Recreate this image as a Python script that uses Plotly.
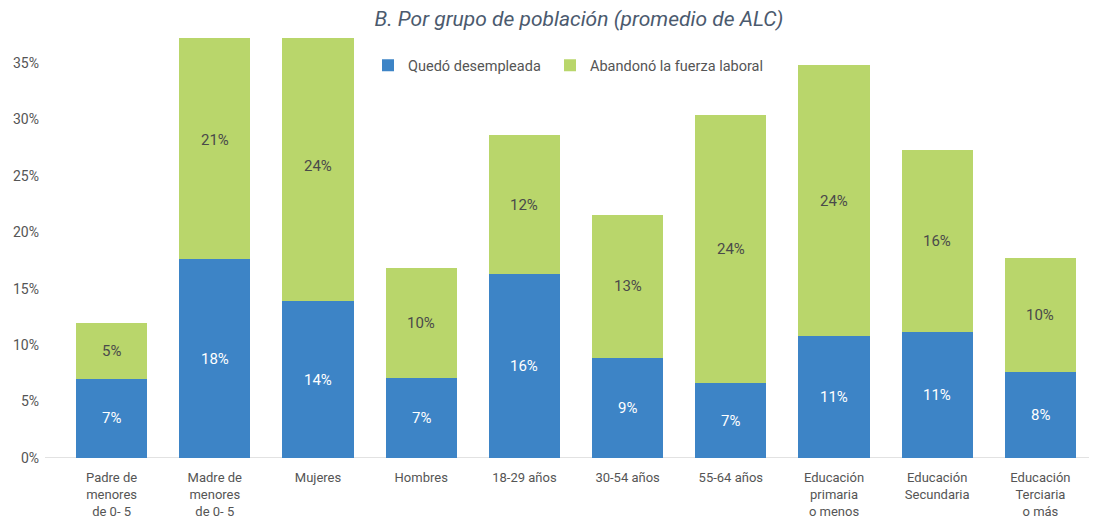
import plotly.graph_objects as go

categories = ["Padre de<br>menores<br>de 0- 5", "Madre de<br>menores<br>de 0- 5", "Mujeres", "Hombres",
              "18-29 años", "30-54 años", "55-64 años", "Educación<br>primaria<br>o menos",
              "Educación<br>Secundaria", "Educación<br>Terciaria<br>o más"]
desempleada = [7.0, 17.6, 13.9, 7.1, 16.3, 8.9, 6.6, 10.8, 11.2, 7.6]
abandono = [5.0, 21.2, 23.9, 9.7, 12.3, 12.6, 23.8, 24.0, 16.1, 10.1]
y_ticks = [0, 5, 10, 15, 20, 25, 30, 35]

blue = "#3d84c6"
green = "#b9d66b"
font = "Roboto"

fig = go.Figure()
fig.add_trace(go.Bar(x=categories, y=desempleada, name="Quedó desempleada", legend="legend",
                     marker=dict(color=blue, line=dict(width=0)), textposition="none"))
fig.add_trace(go.Bar(x=categories, y=abandono, name="Abandonó la fuerza laboral", legend="legend2",
                     marker=dict(color=green, line=dict(width=0)), textposition="none"))

for c, b, g in zip(categories, desempleada, abandono):
    fig.add_annotation(x=c, y=b / 2, text=f"{round(b):.0f}%", showarrow=False,
                       font=dict(color="white", size=15, family=font))
    fig.add_annotation(x=c, y=b + g / 2, text=f"{round(g):.0f}%", showarrow=False,
                       font=dict(color="#4a4a4a", size=15, family=font))

# baseline extending slightly left of the plot area
fig.add_shape(type="line", xref="paper", yref="y", x0=-15 / 1032, x1=1, y0=0, y1=0,
              line=dict(color="#d9d9d9", width=1.5), layer="below")

legend_common = dict(orientation="h", xanchor="left", y=0.935, yanchor="middle",
                     font=dict(size=14.5, color="#555555"), bgcolor="rgba(0,0,0,0)",
                     itemwidth=30, itemsizing="constant")

fig.update_layout(
    width=1097, height=516,
    barmode="stack", bargap=0.31,
    paper_bgcolor="white", plot_bgcolor="white",
    margin=dict(l=52, r=13, t=30, b=66, autoexpand=False),
    font=dict(family=font, color="#555555", size=13),
    title=dict(text="<i>B. Por grupo de población (promedio de ALC)</i>", x=571 / 1097, xanchor="center",
               y=1 - 3 / 516, yanchor="top", font=dict(size=21, color="#4b5a6e", family=font)),
    legend=dict(x=(368 - 60) / 1032, **legend_common),
    legend2=dict(x=(550 - 60) / 1032, **legend_common),
    showlegend=True,
)
fig.update_xaxes(showline=False, showgrid=False, ticks="", automargin=False,
                 tickfont=dict(size=13, color="#555555"), ticklabelstandoff=10)
fig.update_yaxes(range=[0, 37.2], tickvals=y_ticks, ticktext=[f"{v}%" for v in y_ticks],
                 showgrid=False, zeroline=False, showline=False, automargin=False,
                 tickfont=dict(size=14, color="#555555"), ticklabelstandoff=20)

fig.write_html("out.html")
